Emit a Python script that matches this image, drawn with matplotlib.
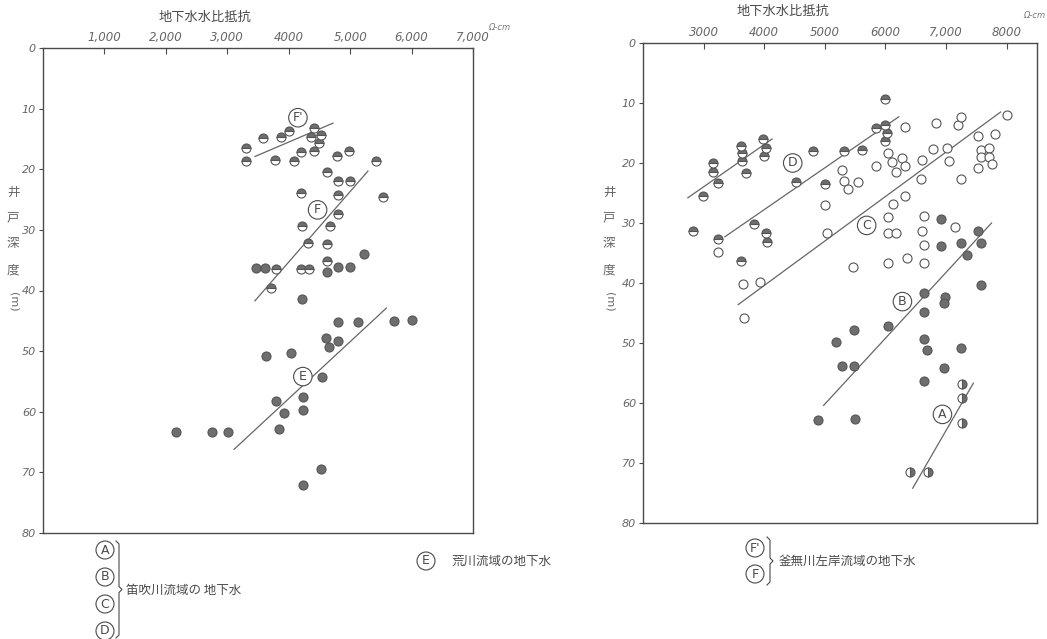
import matplotlib.pyplot as plt
from matplotlib.lines import Line2D

plt.rcParams['font.family'] = ['Noto Sans CJK JP', 'DejaVu Sans']

INK = '#4a4a4a'
DOT = '#6e6e6e'

# ---------------- left panel (Ω-cm vs depth m) ----------------
# F' group (half filled)
fp_x = [3300, 3580, 3870, 4000, 4410, 4370, 4520, 4490, 4410, 4200, 3300, 3770, 4080, 4780, 4980, 5420]
fp_y = [16.5, 14.8, 14.6, 13.7, 13.2, 14.6, 14.3, 15.7, 17.0, 17.1, 18.7, 18.5, 18.7, 17.8, 17.0, 18.7]
# F group (half filled)
f_x = [4630, 4810, 4990, 4200, 4810, 5530, 4810, 4210, 4680, 4310, 4630, 4620, 3790, 4200, 4330, 3710]
f_y = [20.4, 22.0, 22.0, 23.9, 24.2, 24.5, 27.4, 29.4, 29.4, 32.2, 32.4, 35.2, 36.5, 36.5, 36.5, 39.6]
# E group (filled)
e_x = [5220, 3460, 3610, 4630, 4810, 4990, 4210, 4810, 5120, 5710, 6000, 4600, 4810, 4650,
       3630, 4030, 4540, 4230, 3800, 4230, 3930, 3840, 2160, 2750, 3010, 4520, 4240]
e_y = [34.0, 36.3, 36.3, 36.9, 36.1, 36.1, 41.4, 45.2, 45.2, 45.0, 44.8, 47.8, 48.3, 49.3,
       50.8, 50.3, 54.2, 57.5, 58.2, 59.7, 60.2, 62.9, 63.3, 63.3, 63.3, 69.5, 72.0]
# trend lines (x0, x1), (y0, y1)
left_lines = {
    "F'": ([3450, 4720], [17.9, 12.4]),
    'F': ([3450, 5290], [41.7, 20.3]),
    'E': ([3110, 5590], [66.2, 42.9]),
}
left_tags = {"F'": (4150, 11.5), 'F': (4470, 26.7), 'E': (4230, 54.2)}
left_xticks = [1000, 2000, 3000, 4000, 5000, 6000, 7000]
left_xlabels = ['1,000', '2,000', '3,000', '4000', '5,000', '6,000', '7,000']

# ---------------- right panel ----------------
# D group (half filled)
d_x = [5990, 5840, 6000, 6020, 6000, 5310, 5610, 4800, 4520, 5010, 3980, 4030, 3990, 3610,
       3630, 3630, 3700, 3150, 3150, 3240, 2990, 2820, 3240, 3830, 4030, 4040, 3610]
d_y = [9.3, 14.1, 13.6, 15.0, 16.3, 18.0, 17.8, 18.0, 23.1, 23.5, 16.0, 17.5, 18.8, 17.1,
       18.3, 19.6, 21.6, 20.0, 21.5, 23.3, 25.5, 31.3, 32.6, 30.1, 31.6, 33.1, 36.3]
# C group (open)
c_x = [6320, 6040, 6100, 6280, 6330, 6170, 5840, 5290, 5310, 5380, 5540, 5010, 5030, 5460,
       6040, 6350, 6640, 6040, 6040, 6170, 6120, 6320, 6580, 6610, 6790, 7020, 7040, 6840,
       7190, 7240, 7520, 7810, 8000, 7580, 7700, 7580, 7700, 7760, 7520, 7240, 6630, 7140,
       6610, 6630, 3240, 3650, 3930, 3660]
c_y = [14.0, 18.3, 19.8, 19.1, 20.5, 21.5, 20.5, 21.1, 23.0, 24.3, 23.1, 27.0, 31.6, 37.3,
       36.6, 35.9, 36.6, 29.0, 31.6, 31.6, 26.8, 25.5, 22.6, 19.5, 17.6, 17.5, 19.6, 13.3,
       13.6, 12.3, 15.5, 15.1, 12.0, 17.8, 17.5, 19.0, 19.0, 20.1, 20.8, 22.6, 28.8, 30.6,
       31.4, 33.6, 34.8, 40.1, 39.9, 45.8]
# B group (filled)
b_x = [6920, 7520, 7570, 7250, 7350, 6910, 7570, 6640, 6990, 6960, 6640, 6040, 5480, 5180,
       5290, 5480, 6630, 6690, 7250, 6970, 6640, 4880, 5490]
b_y = [29.3, 31.4, 33.4, 33.4, 35.4, 33.9, 40.4, 41.6, 42.3, 43.4, 44.8, 47.1, 47.9, 49.9,
       53.9, 53.9, 49.4, 51.1, 50.9, 54.1, 56.4, 62.9, 62.7]
# A group (half filled, vertical)
a_x = [7270, 7270, 7270, 6400, 6710]
a_y = [56.9, 59.1, 63.4, 71.5, 71.5]
right_lines = {
    'D0': ([2740, 4130], [25.8, 16.0]),
    'D': ([3350, 6220], [32.3, 12.3]),
    'C': ([3570, 7900], [43.6, 11.5]),
    'B': ([4980, 7750], [60.4, 30.0]),
    'A': ([6450, 7450], [74.2, 56.7]),
}
right_tags = {'D': (4470, 20.0), 'C': (5690, 30.4), 'B': (6280, 43.1), 'A': (6940, 61.9)}
right_xticks = [3000, 4000, 5000, 6000, 7000, 8000]
right_xlabels = ['3000', '4000', '5000', '6000', '7,000', '8000']

yticks = [0, 10, 20, 30, 40, 50, 60, 70, 80]

fig = plt.figure(figsize=(10.47, 6.39), dpi=100)
W, H = 1047, 639


def px_axes(l, t, r, b):
    return fig.add_axes([l / W, 1 - b / H, (r - l) / W, (b - t) / H])


def style(ax, xlim, xt, xl):
    ax.set_xlim(*xlim)
    ax.set_ylim(80, 0)
    ax.xaxis.tick_top()
    ax.set_xticks(xt)
    ax.set_xticklabels(xl)
    ax.set_yticks(yticks)
    ax.tick_params(axis='x', direction='in', length=4, width=0.8, colors=INK,
                   labelsize=8.5, pad=3)
    ax.tick_params(axis='y', direction='out', length=3, width=0.8, colors=INK,
                   labelsize=8, pad=2)
    for lab in ax.get_xticklabels() + ax.get_yticklabels():
        lab.set_fontstyle('italic')
        lab.set_family('DejaVu Sans')
        lab.set_color('#666666')
    for s in ax.spines.values():
        s.set_color(INK)
        s.set_linewidth(1.0)


def tag(ax, x, y, s):
    ax.text(x, y, s, ha='center', va='center', fontsize=9, color=INK,
            family='DejaVu Sans', zorder=5,
            bbox=dict(boxstyle='circle,pad=0.22', fc='white', ec=INK, lw=0.8))


mk = dict(ls='none', marker='o', ms=6.5, mec='#555555', mew=0.8)

ax1 = px_axes(43, 48, 473, 533)
style(ax1, (0, 7000), left_xticks, left_xlabels)
for xs, ys in left_lines.values():
    ax1.plot(xs, ys, color='#666666', lw=0.9)
ax1.plot(fp_x, fp_y, mfc=DOT, mfcalt='white', fillstyle='top', **mk)
ax1.plot(f_x, f_y, mfc=DOT, mfcalt='white', fillstyle='top', **mk)
ax1.plot(e_x, e_y, mfc=DOT, **mk)
for k, (x, y) in left_tags.items():
    tag(ax1, x, y, k)

ax2 = px_axes(643, 43, 1037, 523)
style(ax2, (2000, 8500), right_xticks, right_xlabels)
for xs, ys in right_lines.values():
    ax2.plot(xs, ys, color='#666666', lw=0.9)
ax2.plot(d_x, d_y, mfc=DOT, mfcalt='white', fillstyle='top', **mk)
ax2.plot(c_x, c_y, mfc='white', **mk)
ax2.plot(b_x, b_y, mfc=DOT, **mk)
ax2.plot(a_x, a_y, mfc=DOT, mfcalt='white', fillstyle='right', **mk)
for k, (x, y) in right_tags.items():
    tag(ax2, x, y, k)

# unit marks and axis titles
fig.text(488 / W, 1 - 27 / H, 'Ω-cm', ha='left', va='center', fontsize=6, color='#777777',
         fontstyle='italic', family='DejaVu Sans')
fig.text(1045 / W, 1 - 15 / H, 'Ω-cm', ha='right', va='center', fontsize=6, color='#777777',
         fontstyle='italic', family='DejaVu Sans')
fig.text(205 / W, 1 - 17 / H, '地下水水比抵抗', ha='center', va='center', fontsize=9.5, color=INK)
fig.text(783 / W, 1 - 11 / H, '地下水水比抵抗', ha='center', va='center', fontsize=9.5, color=INK)
for xc in (13, 609):
    for ch, yc in zip(['井', '戸', '深', '度'], [192, 218, 244, 270]):
        fig.text(xc / W, 1 - yc / H, ch, ha='center', va='center', fontsize=9, color='#666666')
    fig.text(xc / W, 1 - 302 / H, '(m)', ha='center', va='center', fontsize=8,
             color='#666666', rotation=-90, family='DejaVu Sans')


def circ(xp, yp, s):
    fig.text(xp / W, 1 - yp / H, s, ha='center', va='center', fontsize=9, color=INK,
             family='DejaVu Sans',
             bbox=dict(boxstyle='circle,pad=0.2', fc='white', ec=INK, lw=0.8))


def brace(xp, y0, y1):
    ym = (y0 + y1) / 2
    xs = [xp, xp + 3, xp + 3, xp + 6, xp + 3, xp + 3, xp]
    ys = [y0, y0 + 3, ym - 3, ym, ym + 3, y1 - 3, y1]
    fig.add_artist(Line2D([x / W for x in xs], [1 - y / H for y in ys],
                          color=INK, lw=0.8))


# legends under the plots
for s, yp in zip(['A', 'B', 'C', 'D'], [550, 577, 604, 631]):
    circ(105, yp, s)
brace(116, 541, 638)
fig.text(126 / W, 1 - 590 / H, '笛吹川流域の 地下水', ha='left', va='center', fontsize=9, color=INK)
circ(426, 561, 'E')
fig.text(452 / W, 1 - 561 / H, '荒川流域の地下水', ha='left', va='center', fontsize=9, color=INK)
circ(755, 548, "F'")
circ(755, 574, 'F')
brace(767, 537, 585)
fig.text(779 / W, 1 - 561 / H, '釜無川左岸流域の地下水', ha='left', va='center', fontsize=9, color=INK)

fig.savefig('out.png', dpi=100, facecolor='white')
